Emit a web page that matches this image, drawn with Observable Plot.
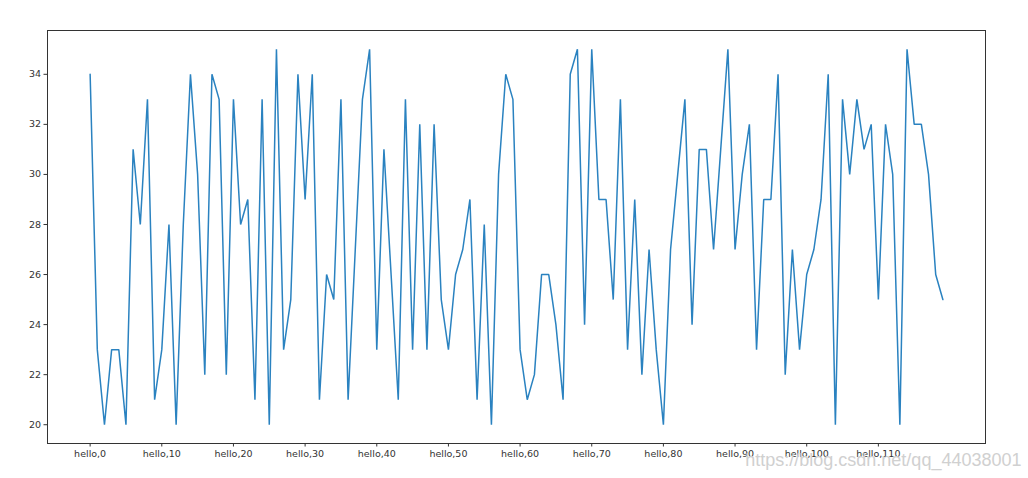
<!DOCTYPE html>
<html>
<head>
<meta charset="utf-8">
<script src="https://cdn.jsdelivr.net/npm/d3@7"></script>
<script src="https://cdn.jsdelivr.net/npm/@observablehq/plot@0.6"></script>
<style>
  html, body { margin: 0; padding: 0; background: #fff; }
  #chart { width: 1028px; height: 478px; }
</style>
</head>
<body>
<div id="chart"></div>
<script>
const values = [
  34, 23, 20, 23, 23, 20, 31, 28, 33, 21,
  23, 28, 20, 28, 34, 30, 22, 34, 33, 22,
  33, 28, 29, 21, 33, 20, 35, 23, 25, 34,
  29, 34, 21, 26, 25, 33, 21, 27, 33, 35,
  23, 31, 26, 21, 33, 23, 32, 23, 32, 25,
  23, 26, 27, 29, 21, 28, 20, 30, 34, 33,
  23, 21, 22, 26, 26, 24, 21, 34, 35, 24,
  35, 29, 29, 25, 33, 23, 29, 22, 27, 23,
  20, 27, 30, 33, 24, 31, 31, 27, 31, 35,
  27, 30, 32, 23, 29, 29, 34, 22, 27, 23,
  26, 27, 29, 34, 20, 33, 30, 33, 31, 32,
  25, 32, 30, 20, 35, 32, 32, 30, 26, 25
];
const xTickIndex = [0, 10, 20, 30, 40, 50, 60, 70, 80, 90, 100, 110];
const xTickLabels = ["hello,0", "hello,10", "hello,20", "hello,30", "hello,40", "hello,50",
  "hello,60", "hello,70", "hello,80", "hello,90", "hello,100", "hello,110"];
const yTicks = [20, 22, 24, 26, 28, 30, 32, 34];
const watermark = ["https://blog.csdn.net/qq_44038001"];

const data = values.map((v, i) => ({idx: i, v}));

const chart = Plot.plot({
  width: 1028,
  height: 478,
  marginLeft: 47,
  marginRight: 43,
  marginTop: 30,
  marginBottom: 35,
  style: {fontFamily: "DejaVu Sans", fontSize: "9.5px", color: "#333", background: "#fff"},
  x: {domain: [-5.95, 124.95]},
  y: {domain: [19.25, 35.75]},
  marks: [
    Plot.line(data, {x: "idx", y: "v", stroke: "#2a82c0", strokeWidth: 1.5, strokeLinejoin: "miter"}),
    Plot.frame({stroke: "#333", strokeWidth: 1}),
    Plot.axisX({ticks: xTickIndex, tickFormat: d => xTickLabels[xTickIndex.indexOf(d)],
      tickSize: 3.5, tickPadding: 3, label: null, stroke: "#333", fill: "#333"}),
    Plot.axisY({ticks: yTicks, tickSize: 3.5, tickPadding: 3, label: null, stroke: "#333", fill: "#333"}),
    Plot.text(watermark, {text: d => d, frameAnchor: "bottom-right", dx: 36, dy: 17,
      textAnchor: "end", fill: "#d0d0d0", fontSize: 18, fontFamily: "Liberation Sans", lineAnchor: "middle"})
  ]
});
document.getElementById("chart").appendChild(chart);
</script>
</body>
</html>
